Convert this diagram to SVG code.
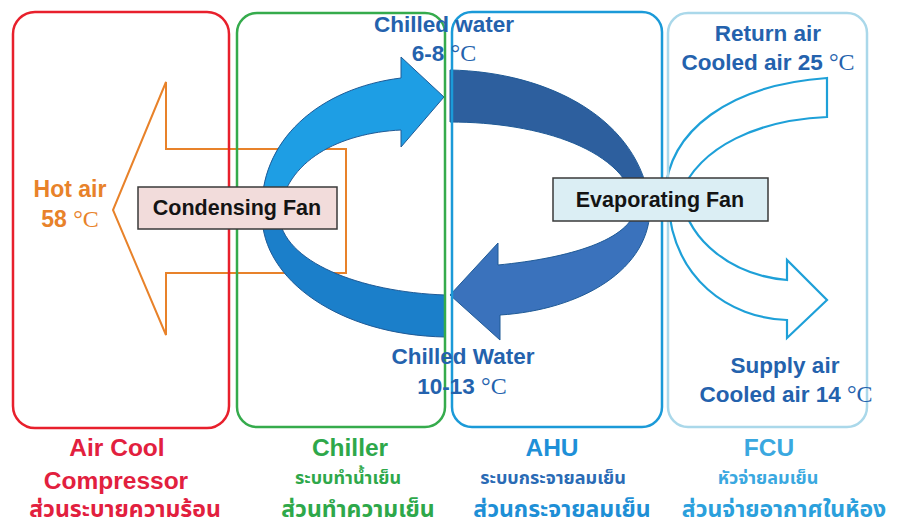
<svg xmlns="http://www.w3.org/2000/svg" width="900" height="530" viewBox="0 0 900 530">
<style>
  .lbl { font-family: "Liberation Sans", Arial, sans-serif; font-weight: bold; text-anchor: middle; }
  .deg { font-family: "Liberation Serif", "Times New Roman", serif; font-weight: normal; }
  .thai { font-family: "Noto Sans Thai", "Noto Sans", "DejaVu Sans", "Liberation Sans", sans-serif; text-anchor: middle; font-weight: bold; }
  .big { font-size: 23px; }
  .small { font-size: 18px; }
  .box { fill: none; stroke-width: 2.5; }
  .fan { stroke: #3a3a3a; stroke-width: 1.5; }
  .fantext { font-family: "Liberation Sans", Arial, sans-serif; font-weight: bold; font-size: 21.5px; fill: #141414; text-anchor: middle; }
  .flow { stroke: #1f5a96; stroke-width: 1; }
  .air { fill: none; stroke: #1ea0d8; stroke-width: 2.2; stroke-linejoin: miter; }
  .blue { fill: #2462ad; font-size: 22.5px; }
</style>
<rect width="900" height="530" fill="#ffffff"/>

<g id="connectors">
  <polygon id="hot-air-arrow" points="346,149 166,149 166,82 113,210 166,335 166,273 346,273" fill="none" stroke="#e8822a" stroke-width="2"/>
  <path id="chilled-supply" class="flow" fill="#1e9ee4" d="M 262 215 C 258 140, 320 88, 401 78 L 401 57 L 444 97 L 401 147 L 401 130 C 340 133, 285 160, 279 215 Z"/>
  <path id="chiller-return" class="flow" fill="#1b7fca" d="M 262 215 C 262 280, 340 335, 445 337 L 445 295 C 360 292, 282 262, 279 215 Z"/>
  <path id="ahu-band" class="flow" fill="#2d5f9e" d="M 450 70 C 550 72, 640 120, 650 205 L 636 208 C 628 150, 540 122, 450 122 Z"/>
  <path id="ahu-return" class="flow" fill="#3a72bc" d="M 650 205 C 652 270, 580 310, 500 315 L 500 340 L 450 295 L 498 243 L 498 265 C 570 258, 630 240, 636 208 Z"/>
  <path id="fcu-return" class="air" d="M 665 195 C 668 130, 730 85, 827 78 L 827 117 C 760 120, 700 145, 680 195"/>
  <path id="fcu-supply" class="air" d="M 668 200 C 672 280, 730 318, 787 320 L 787 338 L 827 300 L 787 260 L 787 280 C 730 275, 690 240, 682 200"/>
</g>

<g id="air-cool">
  <rect class="box" x="13" y="12" width="216" height="416" rx="22" stroke="#e8202c"/>
  <text class="lbl" x="117" y="456" font-size="24.5" fill="#e2203e">Air Cool</text>
  <text class="lbl" x="116" y="489" font-size="24.5" fill="#e2203e">Compressor</text>
  <text class="thai big" x="125" y="517" fill="#e2203e">ส่วนระบายความร้อน</text>
</g>

<g id="chiller">
  <rect class="box" x="237" y="13" width="208" height="414" rx="20" stroke="#35ab4c"/>
  <text class="lbl" x="350" y="456" font-size="24.5" fill="#2ea84a">Chiller</text>
  <text class="thai small" x="348" y="484" fill="#2ea84a">ระบบทำน้ำเย็น</text>
  <text class="thai big" x="358" y="517" fill="#2ea84a">ส่วนทำความเย็น</text>
</g>

<g id="ahu">
  <rect class="box" x="452" y="12" width="210" height="415" rx="20" stroke="#1b9ad8"/>
  <text class="lbl" x="552" y="456" font-size="24.5" fill="#1e90d8">AHU</text>
  <text class="thai small" x="553" y="484" fill="#2a6bb5">ระบบกระจายลมเย็น</text>
  <text class="thai big" x="562" y="517" fill="#1e8fd6">ส่วนกระจายลมเย็น</text>
</g>

<g id="fcu">
  <rect class="box" x="668" y="13" width="199" height="414" rx="20" stroke="#aad8ea" stroke-width="3"/>
  <text class="lbl" x="769" y="456" font-size="24.5" fill="#3aa8e0">FCU</text>
  <text class="thai small" x="768" y="484" fill="#3aa8e0">หัวจ่ายลมเย็น</text>
  <text class="thai big" x="784" y="517" fill="#2ba0dc">ส่วนจ่ายอากาศในห้อง</text>
</g>

<g id="condensing-fan">
  <rect class="fan" x="138" y="187" width="199" height="42" fill="#f2dcdb"/>
  <text class="fantext" x="237" y="215">Condensing Fan</text>
</g>

<g id="evaporating-fan">
  <rect class="fan" x="553" y="178" width="215" height="43" fill="#dbeef4"/>
  <text class="fantext" x="660" y="207">Evaporating Fan</text>
</g>

<g id="labels">
  <text class="lbl" x="70" y="197" font-size="23" fill="#e8822a">Hot air</text>
  <text class="lbl" x="70" y="227" font-size="23" fill="#e8822a">58 <tspan class="deg" font-size="24">°C</tspan></text>
  <text class="lbl blue" x="444" y="32">Chilled water</text>
  <text class="lbl blue" x="444" y="61">6-8 <tspan class="deg" font-size="24">°C</tspan></text>
  <text class="lbl blue" x="768" y="41">Return air</text>
  <text class="lbl blue" x="768" y="70">Cooled air 25 <tspan class="deg" font-size="24">°C</tspan></text>
  <text class="lbl blue" x="463" y="364">Chilled Water</text>
  <text class="lbl blue" x="462" y="394">10-13 <tspan class="deg" font-size="24">°C</tspan></text>
  <text class="lbl blue" x="785" y="373">Supply air</text>
  <text class="lbl blue" x="786" y="402">Cooled air 14 <tspan class="deg" font-size="24">°C</tspan></text>
</g>
</svg>
